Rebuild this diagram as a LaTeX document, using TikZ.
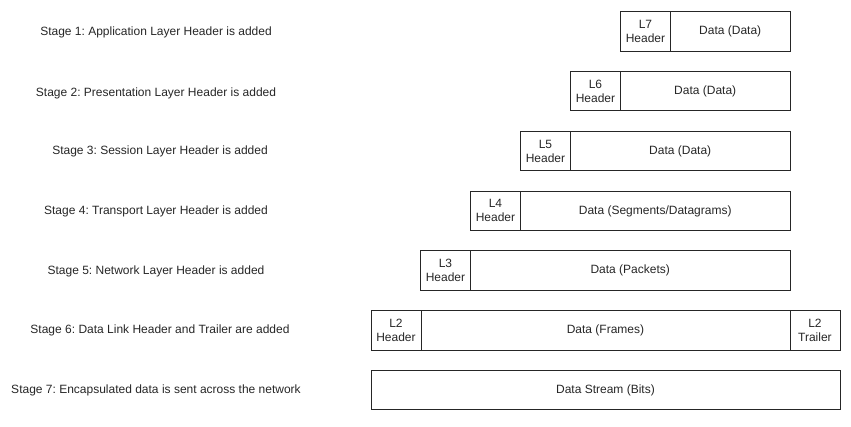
\documentclass[tikz,border=0pt]{standalone}
\usepackage{fontspec}
\setmainfont{Liberation Sans}
\frenchspacing
\begin{document}
\begin{tikzpicture}[x=1pt,y=-1pt,
  cell/.style={draw=black!85, line width=0.9pt, anchor=north west, inner sep=0pt,
    minimum height=39.5pt, align=center, text=black!85, font=\fontsize{12}{14}\selectfont},
  hdr/.style={cell, minimum width=50pt},
  stagelbl/.style={anchor=center, inner sep=0pt, text=black!85, font=\fontsize{12}{14}\selectfont}]
\useasboundingbox (0,0) rectangle (851,427);
% Stage labels
\node[stagelbl] (s1) at (156,32.5) {Stage 1: Application Layer Header is added};
\node[stagelbl] (s2) at (156,93.5) {Stage 2: Presentation Layer Header is added};
\node[stagelbl] (s3) at (160,151.5) {Stage 3: Session Layer Header is added};
\node[stagelbl] (s4) at (156,211.5) {Stage 4: Transport Layer Header is added};
\node[stagelbl] (s5) at (156,271.5) {Stage 5: Network Layer Header is added};
\node[stagelbl] (s6) at (160,330.5) {Stage 6: Data Link Header and Trailer are added};
\node[stagelbl] (s7) at (156,390.5) {Stage 7: Encapsulated data is sent across the network};
% Row 1
\node[hdr] (h7) at (620,11.3) {L7\\Header};
\node[cell, minimum width=119.5pt] (d7) at (670,11.3) {Data (Data)};
% Row 2
\node[hdr] (h6) at (570,71) {L6\\Header};
\node[cell, minimum width=169.5pt] (d6) at (620,71) {Data (Data)};
% Row 3
\node[hdr] (h5) at (520,130.8) {L5\\Header};
\node[cell, minimum width=219.5pt] (d5) at (570,130.8) {Data (Data)};
% Row 4
\node[hdr] (h4) at (470,190.7) {L4\\Header};
\node[cell, minimum width=269.5pt] (d4) at (520,190.7) {Data (Segments/Datagrams)};
% Row 5
\node[hdr] (h3) at (420,250.2) {L3\\Header};
\node[cell, minimum width=319.5pt] (d3) at (470,250.2) {Data (Packets)};
% Row 6
\node[hdr] (h2) at (370.5,310.2) {L2\\Header};
\node[cell, minimum width=369pt] (d2) at (420.5,310.2) {Data (Frames)};
\node[hdr] (t2) at (789.5,310.2) {L2\\Trailer};
% Row 7
\node[cell, minimum width=469pt] (d1) at (370.5,369.7) {Data Stream (Bits)};
\end{tikzpicture}
\end{document}
